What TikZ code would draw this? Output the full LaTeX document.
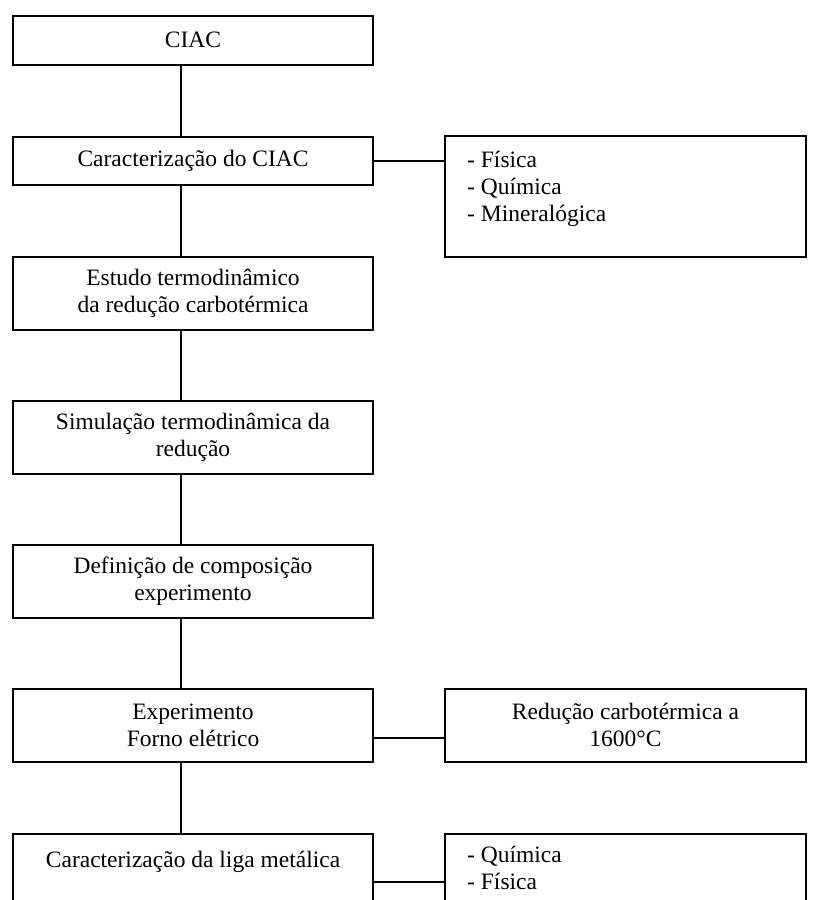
\documentclass[tikz,border=0pt]{standalone}
\usepackage{fontspec}
\setmainfont{Liberation Serif}
\begin{document}
\begin{tikzpicture}[x=1pt,y=-1pt,
  box/.style={draw, line width=1.6pt, inner sep=0pt, minimum width=360pt, anchor=north},
  link/.style={line width=1.6pt},
  txt/.style={font=\fontsize{23.5}{27}\selectfont, align=center, inner sep=0pt},
  list/.style={font=\fontsize{23.5}{27}\selectfont, align=left, inner sep=0pt, anchor=base west}]
\useasboundingbox (0,0) rectangle (819,900);
\clip (0,0) rectangle (819,900);

% main column
\node[box, txt, minimum height=49pt] (ciac)  at (193,15)  {CIAC};
\node[box, txt, minimum height=48pt] (carac) at (193,136) {Caracterização do CIAC};
\node[box, txt, minimum height=73pt] (estudo) at (193,256) {Estudo termodinâmico\\da redução carbotérmica};
\node[box, txt, minimum height=73pt] (simul) at (193,400) {Simulação termodinâmica da\\redução};
\node[box, txt, minimum height=73pt] (defin) at (193,544) {Definição de composição\\experimento};
\node[box, txt, minimum height=73pt] (exper) at (193,688) {Experimento\\Forno elétrico};
\node[box, minimum height=80pt] (liga) at (193,833) {};
\node[txt, anchor=base] (ligatxt) at (193,867) {Caracterização da liga metálica};

% side boxes (list anchors sit on the baseline of the last line)
\node[box, minimum width=361pt, minimum height=121pt] (ensaios) at (625.5,135) {};
\node[list] (ensaiostxt) at (467,221) {- Física\\- Química\\- Mineralógica};
\node[box, txt, minimum width=361pt, minimum height=73pt] (reduc) at (625.5,688) {Redução carbotérmica a\\1600°C};
\node[box, minimum width=361pt, minimum height=80pt] (analise) at (625.5,833) {};
\node[list] (analisetxt) at (467,889) {- Química\\- Física};

% vertical spine
\coordinate (spine) at (181,0);
\draw[link] (ciac.south -| spine) -- (carac.north -| spine);
\draw[link] (carac.south -| spine) -- (estudo.north -| spine);
\draw[link] (estudo.south -| spine) -- (simul.north -| spine);
\draw[link] (simul.south -| spine) -- (defin.north -| spine);
\draw[link] (defin.south -| spine) -- (exper.north -| spine);
\draw[link] (exper.south -| spine) -- (liga.north -| spine);

% branches
\draw[link] (carac.east) -- (ensaios.west |- carac.east);
\draw[link] ([yshift=-12.5pt]exper.east) -- ([yshift=-12.5pt]reduc.west);
\draw[link] ([yshift=-8pt]liga.east) -- ([yshift=-8pt]analise.west);
\end{tikzpicture}
\end{document}
